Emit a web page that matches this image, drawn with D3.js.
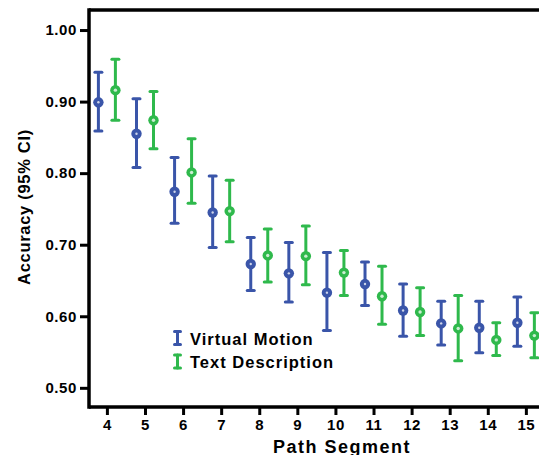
<!DOCTYPE html>
<html>
<head>
<meta charset="utf-8">
<script src="https://cdn.jsdelivr.net/npm/d3@7"></script>
<style>
  html, body { margin: 0; padding: 0; background: #fff; overflow: hidden; }
  svg { display: block; font-family: "Liberation Sans", Arial, sans-serif; font-weight: bold; }
</style>
</head>
<body>
<div id="chart"></div>
<script>
// Path segments on the x axis
const segments = [4, 5, 6, 7, 8, 9, 10, 11, 12, 13, 14, 15];

// Virtual Motion: mean accuracy, lower / upper 95% CI
const motionMean  = [0.899, 0.855, 0.774, 0.745, 0.673, 0.660, 0.633, 0.645, 0.608, 0.590, 0.584, 0.591];
const motionLower = [0.859, 0.808, 0.730, 0.696, 0.636, 0.620, 0.580, 0.615, 0.572, 0.560, 0.549, 0.558];
const motionUpper = [0.941, 0.904, 0.822, 0.796, 0.710, 0.703, 0.689, 0.676, 0.645, 0.621, 0.621, 0.627];

// Text Description: mean accuracy, lower / upper 95% CI
const textMean  = [0.916, 0.874, 0.801, 0.747, 0.685, 0.684, 0.661, 0.628, 0.606, 0.583, 0.567, 0.573];
const textLower = [0.874, 0.834, 0.758, 0.704, 0.648, 0.644, 0.629, 0.589, 0.573, 0.538, 0.545, 0.542];
const textUpper = [0.959, 0.914, 0.848, 0.790, 0.722, 0.726, 0.692, 0.670, 0.640, 0.629, 0.591, 0.605];

const yTicks = [0.5, 0.6, 0.7, 0.8, 0.9, 1.0];

const seriesNames = ["Virtual Motion", "Text Description"];
const colors = ["#3a55a9", "#2fb94c"];

const W = 539, H = 455;

const svg = d3.select("#chart").append("svg")
    .attr("width", W)
    .attr("height", H);

// the plot runs off the right edge of the picture
const x = d3.scaleLinear().domain([3.53, 16.5]).range([89, 583]);
const y = d3.scaleLinear().domain([0.4732, 1.028]).range([407, 10]);

const series = [
    {name: seriesNames[0], color: colors[0], mean: motionMean, lo: motionLower, hi: motionUpper, dx: -8.5, hole: 1.2},
    {name: seriesNames[1], color: colors[1], mean: textMean, lo: textLower, hi: textUpper, dx: 8.5, hole: 1.7}
];

// axes
const yAxis = svg.append("g")
    .attr("transform", "translate(" + x.range()[0] + ",0)")
    .call(d3.axisLeft(y).tickValues(yTicks).tickFormat(d3.format(".2f")).tickSize(9).tickPadding(3));

const xAxis = svg.append("g")
    .attr("transform", "translate(0," + y.range()[0] + ")")
    .call(d3.axisBottom(x).tickValues(segments).tickFormat(d3.format("d")).tickSize(8).tickPadding(4));

[xAxis, yAxis].forEach(g => {
    g.select(".domain").remove();
    g.selectAll(".tick line").attr("stroke", "#000").attr("stroke-width", 3);
    g.selectAll(".tick text")
        .attr("fill", "#000")
        .style("font-size", "15px")
        .style("font-weight", "bold")
        .style("letter-spacing", "0.6px")
        .style("font-family", "\"Liberation Sans\", Arial, sans-serif");
});

// frame: left, bottom and top lines
const frame = svg.append("g").attr("stroke", "#000").attr("stroke-width", 3.5).attr("fill", "none");
frame.append("line")
    .attr("x1", x.range()[0]).attr("x2", x.range()[0])
    .attr("y1", y.range()[1] - 1.75).attr("y2", y.range()[0] + 1.75);
frame.append("line")
    .attr("x1", x.range()[0]).attr("x2", x.range()[1])
    .attr("y1", y.range()[0]).attr("y2", y.range()[0]);
frame.append("line")
    .attr("x1", x.range()[0]).attr("x2", x.range()[1])
    .attr("y1", y.range()[1]).attr("y2", y.range()[1]);

// error bars and points
const capW = 3.5;
series.forEach(s => {
    const g = svg.append("g").attr("stroke", s.color).attr("fill", s.color);
    const pts = g.selectAll("g.pt").data(segments.map((seg, i) => ({seg, m: s.mean[i], lo: s.lo[i], hi: s.hi[i]})))
        .enter().append("g").attr("class", "pt")
        .attr("transform", d => "translate(" + (x(d.seg) + s.dx) + ",0)");
    pts.append("line")
        .attr("x1", 0).attr("x2", 0)
        .attr("y1", d => y(d.lo)).attr("y2", d => y(d.hi))
        .attr("stroke-width", 3);
    pts.append("line")
        .attr("x1", -capW).attr("x2", capW)
        .attr("y1", d => y(d.hi)).attr("y2", d => y(d.hi))
        .attr("stroke-width", 3).attr("stroke-linecap", "round");
    pts.append("line")
        .attr("x1", -capW).attr("x2", capW)
        .attr("y1", d => y(d.lo)).attr("y2", d => y(d.lo))
        .attr("stroke-width", 3).attr("stroke-linecap", "round");
    pts.append("circle")
        .attr("cy", d => y(d.m)).attr("r", 5.2).attr("stroke", "none");
    pts.append("circle")
        .attr("cy", d => y(d.m)).attr("r", s.hole)
        .attr("stroke", "none").attr("fill", "#fff").attr("opacity", 0.75);
});

// legend
const legend = svg.append("g").attr("transform", "translate(177.5,338)");
series.forEach((s, i) => {
    const item = legend.append("g").attr("transform", "translate(0," + (i * 23.5) + ")");
    const ic = item.append("g").attr("stroke", s.color).attr("stroke-width", 3).attr("stroke-linecap", "round");
    ic.append("line").attr("x1", 0).attr("x2", 0).attr("y1", -6.5).attr("y2", 6.5);
    ic.append("line").attr("x1", -3).attr("x2", 3).attr("y1", -6.5).attr("y2", -6.5);
    ic.append("line").attr("x1", -3).attr("x2", 3).attr("y1", 6.5).attr("y2", 6.5);
    item.append("text")
        .attr("x", 12.5).attr("y", 6.5)
        .style("font-size", "16.5px")
        .style("letter-spacing", "1px")
        .attr("fill", "#000")
        .text(s.name);
});

// axis titles
svg.append("text")
    .attr("x", 342).attr("y", 453)
    .attr("text-anchor", "middle")
    .style("font-size", "18px")
    .style("letter-spacing", "1.5px")
    .attr("fill", "#000")
    .text("Path Segment");

svg.append("text")
    .attr("transform", "translate(30,207) rotate(-90)")
    .attr("text-anchor", "middle")
    .style("font-size", "16.5px")
    .style("letter-spacing", "0.7px")
    .attr("fill", "#000")
    .text("Accuracy (95% CI)");
</script>
</body>
</html>
